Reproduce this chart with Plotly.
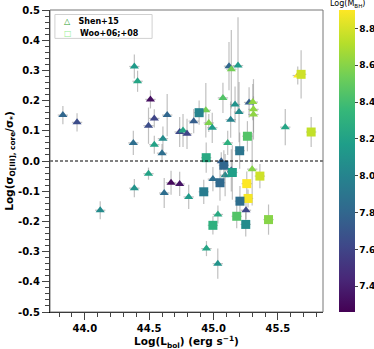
import plotly.graph_objects as go

# Shen+15 (triangles): log Lbol, log(sigma_OIII,core / sigma_*), error, log M_BH
shen_lbol = [43.83, 43.94, 44.12, 44.377, 44.385, 44.41, 44.385, 44.495, 44.495, 44.51,
             44.54, 44.54, 44.607, 44.60, 44.617, 44.64, 44.67, 44.737, 44.737, 44.763,
             44.794, 44.807, 44.846, 44.94, 44.963, 44.99, 44.945, 45.034, 45.033, 45.06,
             44.995, 45.09, 45.073, 45.11, 45.12, 45.138, 45.19, 45.133, 45.138, 45.167,
             45.198, 45.276, 45.305, 45.31, 45.31, 45.30, 45.252, 45.557, 45.654]
shen_ratio = [0.152, 0.128, -0.163, 0.060, 0.313, 0.264, -0.090, 0.117, -0.042, 0.204,
              0.141, 0.054, 0.074, 0.026, -0.106, 0.152, -0.072, -0.076, 0.096, 0.101,
              0.090, -0.119, 0.132, 0.168, 0.126, 0.110, -0.290, -0.177, -0.340, -0.001,
              -0.060, -0.047, 0.209, 0.060, 0.314, 0.304, 0.316, 0.137, -0.031, 0.187,
              0.162, 0.194, 0.195, 0.171, 0.154, -0.027, -0.163, 0.112, 0.283]
shen_err = [0.03, 0.03, 0.03, 0.04, 0.04, 0.035, 0.03, 0.06, 0.02, 0.03,
            0.03, 0.03, 0.04, 0.03, 0.05, 0.07, 0.04, 0.04, 0.05, 0.055,
            0.05, 0.04, 0.04, 0.09, 0.03, 0.05, 0.025, 0.03, 0.05, 0.03,
            0.04, 0.07, 0.05, 0.04, 0.08, 0.13, 0.16, 0.06, 0.07, 0.06,
            0.10, 0.05, 0.06, 0.10, 0.06, 0.12, 0.03, 0.06, 0.03]
shen_mbh = [7.80, 7.65, 8.05, 7.85, 8.15, 8.22, 8.10, 7.65, 8.20, 7.32,
            7.60, 8.20, 8.05, 7.85, 7.85, 7.80, 7.30, 7.35, 7.62, 8.22,
            7.60, 8.15, 7.75, 8.55, 8.58, 8.15, 8.22, 8.25, 8.10, 7.75,
            7.85, 8.05, 8.45, 8.30, 7.80, 8.55, 8.15, 8.00, 7.75, 8.10,
            8.05, 7.75, 8.62, 8.62, 8.62, 8.60, 7.62, 8.22, 8.90]

# Woo+06;+08 (squares)
woo_lbol = [44.888, 44.943, 44.924, 44.995, 45.08, 45.05, 45.146, 45.203, 45.263,
            45.258, 45.268, 45.205, 45.18, 45.25, 45.427, 45.36, 45.68, 45.758]
woo_ratio = [0.160, 0.011, -0.102, -0.213, -0.014, -0.072, -0.038, 0.034, 0.082,
             -0.075, -0.124, -0.133, -0.183, -0.210, -0.194, -0.050, 0.287, 0.096]
woo_err = [0.04, 0.05, 0.04, 0.03, 0.05, 0.06, 0.09, 0.06, 0.05,
           0.04, 0.03, 0.05, 0.04, 0.04, 0.05, 0.04, 0.08, 0.05]
woo_mbh = [8.00, 8.25, 7.95, 8.30, 7.80, 7.82, 8.18, 7.90, 8.45,
           8.90, 8.88, 7.85, 8.45, 8.05, 8.60, 8.78, 8.78, 8.75]

y_ticks = [0.5, 0.4, 0.3, 0.2, 0.1, 0.0, -0.1, -0.2, -0.3, -0.4, -0.5]
y_labels = ["0.5", "0.4", "0.3", "0.2", "0.1", "0.0", "-0.1", "-0.2", "-0.3", "-0.4", "-0.5"]
x_ticks = [44.0, 44.5, 45.0, 45.5]
cb_ticks = [7.4, 7.6, 7.8, 8.0, 8.2, 8.4, 8.6, 8.8]

errcol = "rgba(140,140,140,0.55)"
font = "DejaVu Sans"

fig = go.Figure()

fig.add_trace(go.Scatter(
    x=shen_lbol, y=shen_ratio, mode="markers", showlegend=False,
    marker=dict(symbol="triangle-up", size=8, color=shen_mbh, coloraxis="coloraxis",
                line=dict(width=0)),
    error_y=dict(type="data", array=shen_err, color=errcol, thickness=1.2, width=0),
    error_x=dict(type="constant", value=0.04, color=errcol, thickness=1.2, width=0),
))
fig.add_trace(go.Scatter(
    x=woo_lbol, y=woo_ratio, mode="markers", showlegend=False,
    marker=dict(symbol="square", size=9, color=woo_mbh, coloraxis="coloraxis",
                line=dict(width=0)),
    error_y=dict(type="data", array=woo_err, color=errcol, thickness=1.2, width=0),
    error_x=dict(type="constant", value=0.04, color=errcol, thickness=1.2, width=0),
))

fig.add_hline(y=0, line=dict(color="black", width=1, dash="3px,2px"))

fig.update_layout(
    width=374, height=349,
    margin=dict(l=50, r=51, t=10, b=37, autoexpand=False),
    plot_bgcolor="white", paper_bgcolor="white",
    font=dict(family=font, size=10, color="black", weight="bold"),
    coloraxis=dict(
        colorscale="Viridis", cmin=7.26, cmax=8.90,
        colorbar=dict(x=1.0586, xanchor="left", xpad=0, y=0.5, yanchor="middle",
                      len=1.0, ypad=0, thickness=16, outlinewidth=0, tickvals=cb_ticks,
                      tickformat=".1f", ticks="outside", ticklen=3,
                      tickfont=dict(size=9, family=font, weight="bold")),
    ),
    showlegend=False,
)

fig.update_xaxes(
    range=[43.73, 45.85], tickvals=x_ticks, tickformat=".1f",
    ticks="outside", ticklen=7, tickwidth=1.2, showgrid=False, zeroline=False,
    showline=True, linecolor="black", linewidth=1.2, mirror=False, automargin=False,
    minor=dict(ticks="outside", ticklen=4, tickmode="linear", tick0=44.0, dtick=0.1,
               showgrid=False),
)
fig.update_yaxes(
    range=[-0.5, 0.5], tickvals=y_ticks, ticktext=y_labels,
    ticks="outside", ticklen=7, tickwidth=1.2, showgrid=False, zeroline=False,
    showline=True, linecolor="black", linewidth=1.2, mirror=False, automargin=False,
    minor=dict(ticks="outside", ticklen=4, tickmode="linear", tick0=0, dtick=0.02,
               showgrid=False),
    title=dict(text="Log(σ<sub>O[III], core</sub>/σ<sub>*</sub>)", standoff=2,
               font=dict(size=10.5)),
)

# x-axis title
fig.add_annotation(text="Log(L<sub>bol</sub>) (erg s<sup>−1</sup>)", xref="paper",
                   yref="paper", x=0.5, y=-0.098, xanchor="center", yanchor="middle",
                   showarrow=False, font=dict(size=10.5))

# frame on top / right
fig.add_shape(type="rect", xref="paper", yref="paper", x0=0, y0=0, x1=1, y1=1,
              line=dict(color="#777777", width=1), layer="above")

# legend box
fig.add_shape(type="rect", xref="paper", yref="paper", x0=0.018, y0=0.906,
              x1=0.374, y1=0.985, line=dict(color="#d0d0d0", width=1),
              fillcolor="white", layer="below")
fig.add_annotation(text="<span style='color:#2ca02c'>△</span>   Shen+15",
                   xref="paper", yref="paper", x=0.045, y=0.962, xanchor="left",
                   yanchor="middle", showarrow=False, font=dict(size=8))
fig.add_annotation(text="<span style='color:#90ee90'>□</span>   Woo+06;+08",
                   xref="paper", yref="paper", x=0.045, y=0.922, xanchor="left",
                   yanchor="middle", showarrow=False, font=dict(size=8))

fig.add_annotation(text="Log(M<sub>BH</sub>)", xref="paper", yref="paper",
                   x=1.088, y=1.02, xanchor="center", yanchor="middle",
                   showarrow=False, font=dict(size=8, family=font, weight="normal"))

fig.write_html("out.html", config={"displayModeBar": False},
               post_script="document.body.style.margin='0';")
